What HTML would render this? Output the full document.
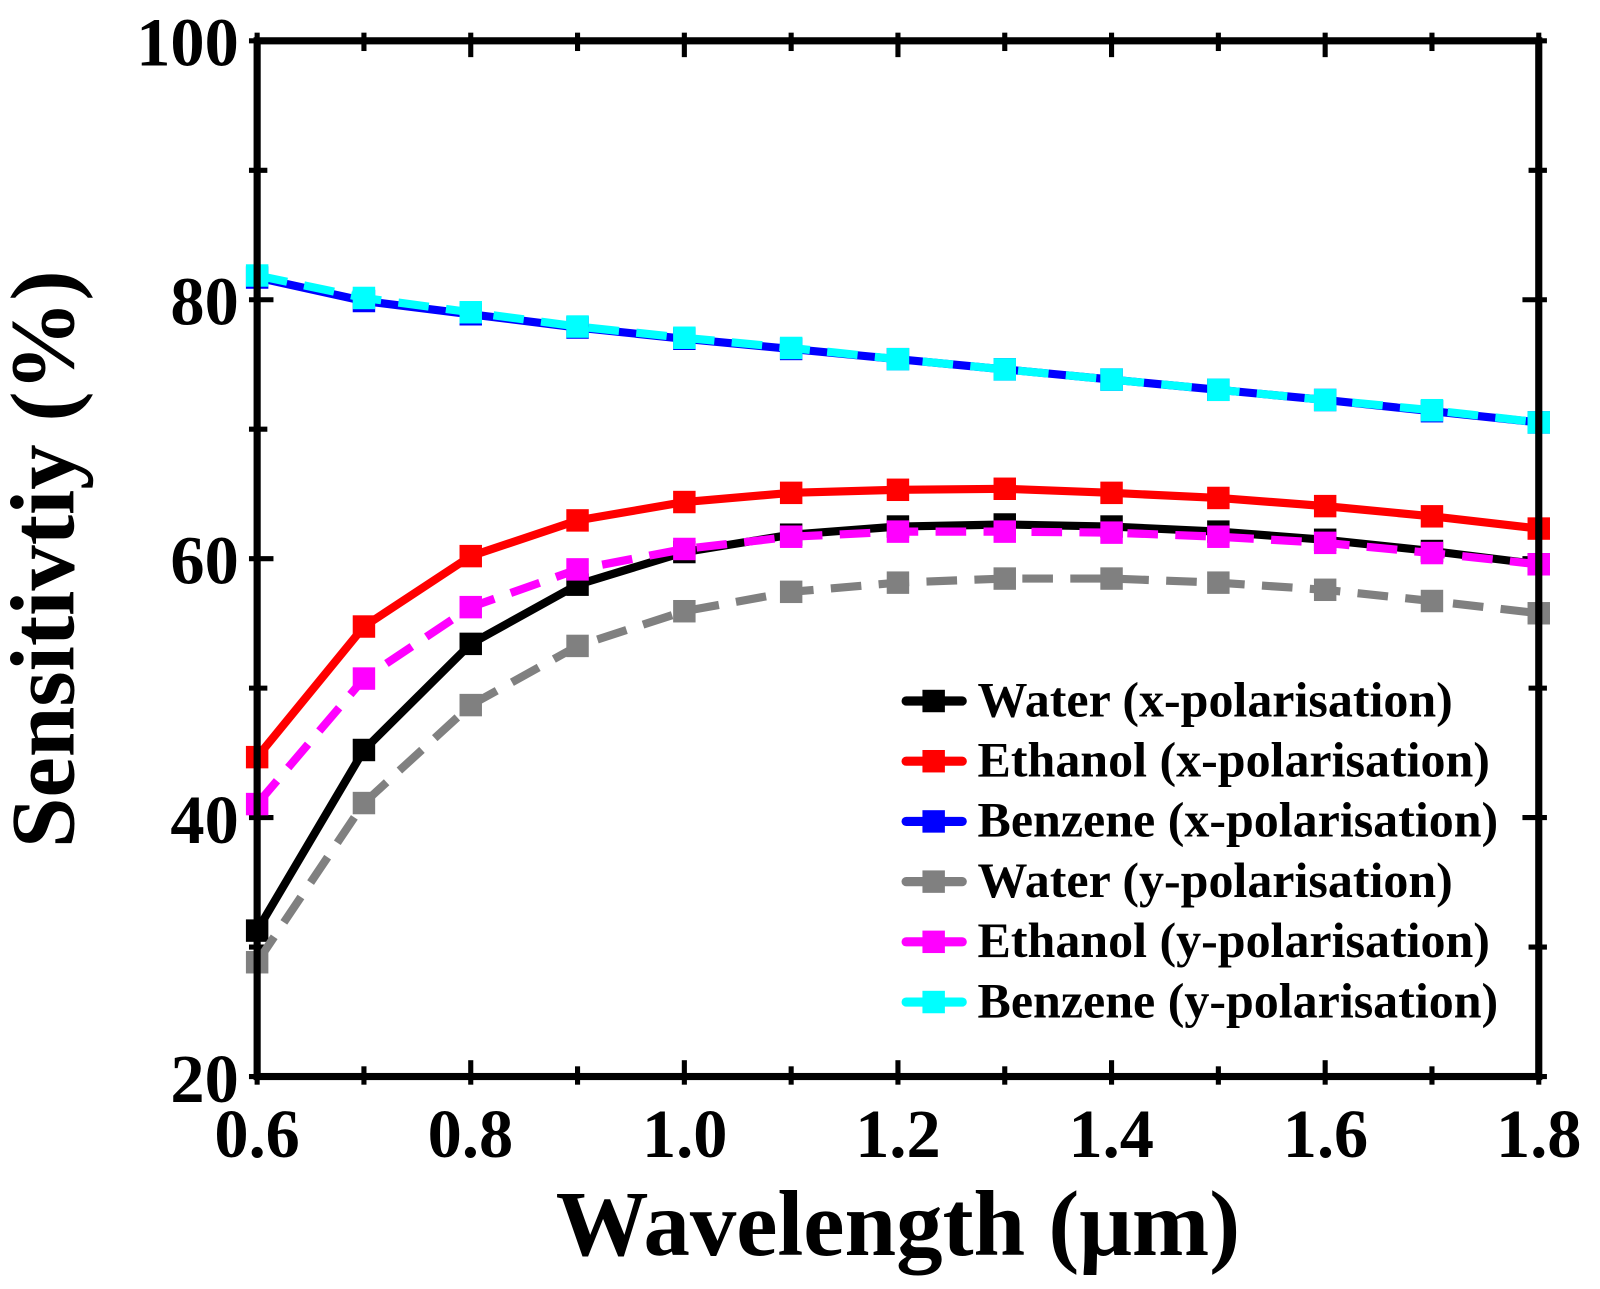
<!DOCTYPE html>
<html><head><meta charset="utf-8"><style>
body{margin:0;background:#fff}
svg text{font-family:"Liberation Serif",serif;font-weight:bold}
</style></head><body>
<svg width="1600" height="1284" xmlns="http://www.w3.org/2000/svg">
<g transform="scale(1.0204)">
<g font-size="67" text-anchor="end">
<text x="234" y="64">100</text><text x="234" y="318">80</text><text x="234" y="572">60</text><text x="234" y="826">40</text><text x="234" y="1080">20</text>
</g>
<g font-size="67" text-anchor="middle">
<text x="252" y="1134">0.6</text><text x="461" y="1134">0.8</text><text x="671" y="1134">1.0</text><text x="880" y="1134">1.2</text><text x="1089" y="1134">1.4</text><text x="1299" y="1134">1.6</text><text x="1508" y="1134">1.8</text>
</g>
<text x="880" y="1230" font-size="91" text-anchor="middle">Wavelength (μm)</text>
<text transform="translate(72,548) rotate(-90)" font-size="89" text-anchor="middle">Sensitivtiy (%)</text>
<g id="ticks" stroke="#000" stroke-width="5"></g>
<g id="series"></g>
<rect x="252" y="40" width="1256" height="1015" fill="none" stroke="#000" stroke-width="7"/>
<g id="leg" font-size="49"></g>
</g>
</svg>
<script>
const NS="http://www.w3.org/2000/svg";
function el(p,t,a){const e=document.createElementNS(NS,t);for(const k in a)e.setAttribute(k,a[k]);p.appendChild(e);return e;}
const tk=document.getElementById('ticks');
for(let i=0;i<=8;i++){const y=1055-i*126.875;const L=i%2==0?16:10;
 el(tk,'line',{x1:252-8,x2:252+L,y1:y,y2:y});el(tk,'line',{x1:1508+8,x2:1508-L,y1:y,y2:y});}
for(let i=0;i<=12;i++){const x=252+i*104.667;const L=i%2==0?16:10;
 el(tk,'line',{x1:x,x2:x,y1:1055+8,y2:1055-L});el(tk,'line',{x1:x,x2:x,y1:40-8,y2:40+L});}
const S=[
["#000",0,[912,735,631,573,541,524,516,514,516,521,529,540,553]],
["#f00",0,[742,614,545,510,492,483,480,479,483,488,496,506,518]],
["#00f",0,[272,295,308,321,332,342,352,362,372,382,392,403,414]],
["#808080",1,[943,787,691,633,599,580,571,567,567,571,578,589,601]],
["#f0f",1,[788,665,595,558,538,526,521,521,522,526,532,542,553]],
["#0ff",1,[270,292,306,320,331,341,352,362,372,382,392,402,414]]];
const sg=document.getElementById('series');
for(const [c,d,v] of S){
 const pts=v.map((y,i)=>(252+i*104.667)+','+y).join(' ');
 const a={points:pts,fill:'none',stroke:c,'stroke-width':8,'stroke-linejoin':'round'};
 if(d){a['stroke-dasharray']='30,17';}
 el(sg,'polyline',a);
 v.forEach((y,i)=>el(sg,'rect',{x:252+i*104.667-11,y:y-11,width:22,height:22,fill:c}));
}
const lg=document.getElementById('leg');
const names=["Water (x-polarisation)","Ethanol (x-polarisation)","Benzene (x-polarisation)","Water (y-polarisation)","Ethanol (y-polarisation)","Benzene (y-polarisation)"];
names.forEach((n,i)=>{const y=687+i*59;const c=S[i][0];
 el(lg,'line',{x1:888,x2:943,y1:y,y2:y,stroke:c,'stroke-width':9,'stroke-linecap':'round'});
 el(lg,'rect',{x:904,y:y-11,width:22,height:22,fill:c});
 const t=el(lg,'text',{x:958,y:y+15});t.textContent=n;});
</script>
</body></html>
